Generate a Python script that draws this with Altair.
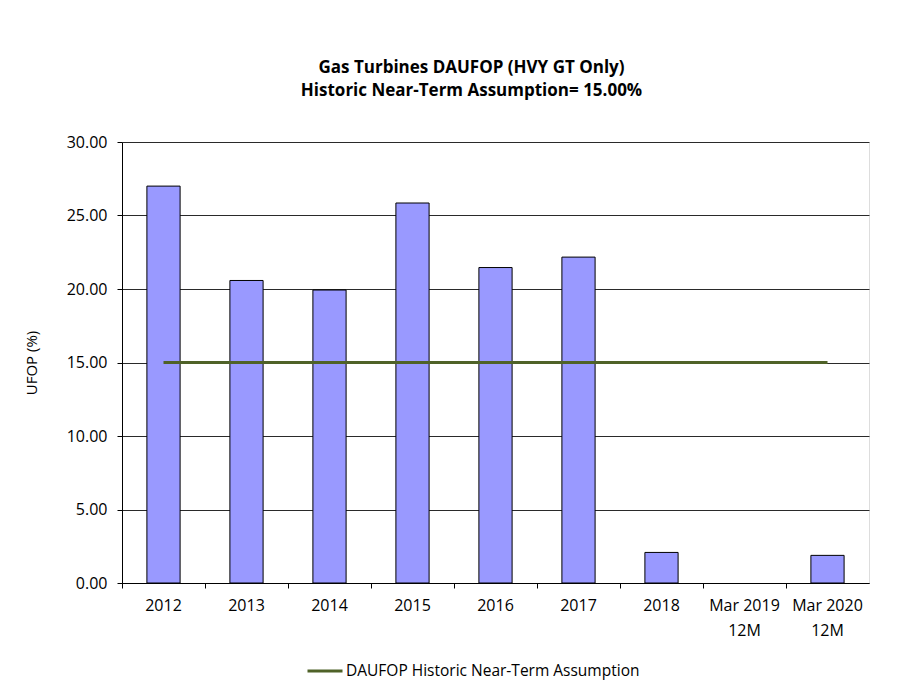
import altair as alt
import pandas as pd

# Categories (years / rolling 12-month periods)
categories = ["2012", "2013", "2014", "2015", "2016", "2017", "2018",
              "Mar 2019 12M", "Mar 2020 12M"]
# DAUFOP (HVY GT only), % — no value for Mar 2019 12M
ufop = [27.0, 20.58, 19.93, 25.85, 21.46, 22.17, 2.08, None, 1.88]
# Historic near-term assumption, %
assumption = [15.0] * len(categories)
assumption_label = "DAUFOP Historic Near-Term Assumption"

FONT = "Open Sans"

bars_df = pd.DataFrame({"period": categories, "ufop": ufop})
line_df = pd.DataFrame({
    "period": categories,
    "value": assumption,
    "series": [assumption_label] * len(categories),
})

x_enc = alt.X(
    "period:N",
    sort=categories,
    scale=alt.Scale(domain=categories, paddingInner=0, paddingOuter=0),
    axis=alt.Axis(
        title=None,
        labelAngle=0,
        bandPosition=0,
        labelFont=FONT,
        labelFontSize=16,
        labelColor="#000000",
        labelPadding=9,
        labelLineHeight=25,
        labelExpr="indexof(datum.label, ' 12M') > 0 ? "
                  "[replace(datum.label, ' 12M', ''), '12M'] : datum.label",
        tickColor="#000000",
        tickSize=5,
        domainColor="#000000",
        grid=False,
    ),
)

bars = alt.Chart(bars_df).mark_bar(
    width=alt.RelativeBandSize(0.4),
    color="#9999FF",
    stroke="#000000",
    strokeWidth=1,
).encode(
    x=x_enc,
    y=alt.Y(
        "ufop:Q",
        scale=alt.Scale(domain=[0, 30], nice=False),
        axis=alt.Axis(
            title="UFOP (%)",
            titleFont=FONT,
            titleFontSize=15,
            titleFontWeight="normal",
            titleColor="#000000",
            titlePadding=27,
            values=[0, 5, 10, 15, 20, 25, 30],
            format=".2f",
            labelFont=FONT,
            labelFontSize=16,
            labelColor="#000000",
            labelPadding=10,
            tickColor="#000000",
            tickSize=5,
            domainColor="#000000",
            grid=True,
            gridColor="#2a2a2a",
            gridWidth=1,
        ),
    ),
)

line = alt.Chart(line_df).mark_line(strokeWidth=3).encode(
    x=alt.X("period:N", sort=categories),
    y=alt.Y("value:Q"),
    color=alt.Color(
        "series:N",
        scale=alt.Scale(domain=[assumption_label], range=["#4F6228"]),
        legend=alt.Legend(
            title=None,
            orient="none",
            legendX=184,
            legendY=510,
            symbolType="stroke",
            symbolSize=1225,
            symbolStrokeWidth=3,
            labelFont=FONT,
            labelFontSize=15.5,
            labelColor="#000000",
            labelOffset=2,
            labelLimit=500,
        ),
    ),
)

chart = alt.layer(bars, line).properties(
    width=747,
    height=441,
    autosize=alt.AutoSizeParams(type="none"),
    padding={"left": 122, "top": 142, "right": 55, "bottom": 113},
    title=alt.TitleParams(
        text=["Gas Turbines DAUFOP (HVY GT Only)",
              "Historic Near-Term Assumption= 15.00%"],
        font=FONT,
        fontSize=17,
        fontWeight="bold",
        color="#000000",
        anchor="middle",
        dx=-24,
        offset=34,
        lineHeight=23,
    ),
).configure_view(
    stroke="#000000",
    strokeWidth=1,
).configure(background="#ffffff")

chart.save("out.html", embed_options={"renderer": "svg", "actions": False})
